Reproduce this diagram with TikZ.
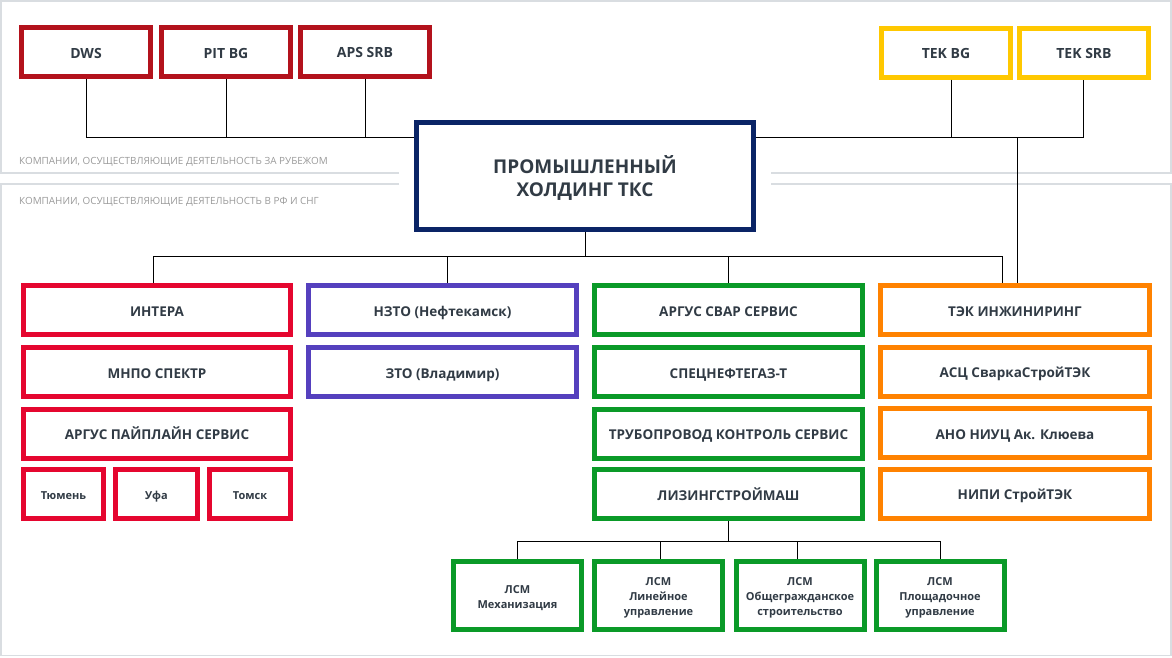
\documentclass[tikz,border=0pt]{standalone}
\usepackage{fontspec}
\setmainfont{Open Sans}
\definecolor{dred}{HTML}{B3121C}
\definecolor{yel}{HTML}{FFC800}
\definecolor{navy}{HTML}{0A2466}
\definecolor{red}{HTML}{E5062F}
\definecolor{purp}{HTML}{5540BE}
\definecolor{grn}{HTML}{0A9A28}
\definecolor{orng}{HTML}{FF8200}
\definecolor{txt}{HTML}{313B45}
\definecolor{pline}{HTML}{D9DDE1}
\definecolor{ltxt}{HTML}{9A9A9A}
\tikzset{
  basebox/.style={draw, line width=5pt, fill=white, inner sep=0pt, minimum height=49pt,
    text=txt, align=center},
  box/.style={basebox, text height=12.2pt, text depth=0pt,
    font=\bfseries\fontsize{13.5}{15}\selectfont},
  topbox/.style={basebox, minimum width=129pt, text height=12.6pt, text depth=0pt,
    font=\bfseries\fontsize{14}{16}\selectfont},
  colbox/.style={box, minimum width=268pt},
  smallbox/.style={basebox, text height=10.5pt, text depth=0pt,
    font=\bfseries\fontsize{11}{13}\selectfont},
  lsmbox/.style={basebox, draw=grn, minimum width=128pt, minimum height=68pt,
    font=\bfseries\fontsize{11}{15}\selectfont},
  hubbox/.style={basebox, minimum width=337pt, minimum height=107pt,
    font=\bfseries\fontsize{19}{23}\selectfont},
  conn/.style={line width=1pt, black},
  panel/.style={line width=1.5pt, pline},
  lbl/.style={anchor=west, inner sep=0pt, text=ltxt, text height=7.1pt, text depth=0pt,
    font=\fontsize{9.9}{11}\selectfont}
}
\begin{document}
\begin{tikzpicture}[x=1pt,y=-1pt]
\useasboundingbox (0,0) rectangle (1172,657);
% panels
\draw[panel] (399,173) -- (0.75,173) -- (0.75,0.75) -- (1171,0.75) -- (1171,173) -- (771,173);
\draw[panel] (399,184) -- (0.75,184) -- (0.75,655.5) -- (1171,655.5) -- (1171,184) -- (771,184);
\node[lbl] (lab1) at (19,160.5) {КОМПАНИИ, ОСУЩЕСТВЛЯЮЩИЕ ДЕЯТЕЛЬНОСТЬ ЗА РУБЕЖОМ};
\node[lbl] (lab2) at (19,200.5) {КОМПАНИИ, ОСУЩЕСТВЛЯЮЩИЕ ДЕЯТЕЛЬНОСТЬ В РФ И СНГ};
% top row
\node[topbox, draw=dred] (dws) at (86,52) {DWS};
\node[topbox, draw=dred] (pit) at (226,52) {PIT BG};
\node[topbox, draw=dred] (aps) at (365,51.5) {APS SRB};
\node[topbox, draw=yel] (tekbg) at (946,52.5) {TEK BG};
\node[topbox, draw=yel] (teksrb) at (1084,52.5) {TEK SRB};
% hub
\node[hubbox, draw=navy] (hub) at (585,176) {\rule{0pt}{21pt}ПРОМЫШЛЕННЫЙ\\ХОЛДИНГ ТКС};
% red column
\node[colbox, draw=red, minimum width=267pt] (r1) at (157,310) {ИНТЕРА};
\node[colbox, draw=red, minimum width=267pt] (r2) at (157,372) {МНПО СПЕКТР};
\node[colbox, draw=red, minimum width=267pt] (r3) at (157,433.5) {АРГУС ПАЙПЛАЙН СЕРВИС};
\node[smallbox, draw=red, minimum width=80pt] (s1) at (63.5,494) {Тюмень};
\node[smallbox, draw=red, minimum width=82pt] (s2) at (156.5,494) {Уфа};
\node[smallbox, draw=red, minimum width=81pt] (s3) at (250,494) {Томск};
% purple column
\node[colbox, draw=purp] (p1) at (442.5,310) {НЗТО (Нефтекамск)};
\node[colbox, draw=purp] (p2) at (442.5,372) {ЗТО (Владимир)};
% green column
\node[colbox, draw=grn] (g1) at (728.5,310) {АРГУС СВАР СЕРВИС};
\node[colbox, draw=grn] (g2) at (728.5,372) {СПЕЦНЕФТЕГАЗ-Т};
\node[colbox, draw=grn] (g3) at (728.5,433.5) {ТРУБОПРОВОД КОНТРОЛЬ СЕРВИС};
\node[colbox, draw=grn] (g4) at (728.5,494) {ЛИЗИНГСТРОЙМАШ};
% orange column
\node[colbox, draw=orng, minimum width=269pt] (o1) at (1015,310) {ТЭК ИНЖИНИРИНГ};
\node[colbox, draw=orng, minimum width=269pt] (o2) at (1015,371.5) {АСЦ СваркаСтройТЭК};
\node[colbox, draw=orng, minimum width=269pt] (o3) at (1015,433) {АНО НИУЦ Ак. Клюева};
\node[colbox, draw=orng, minimum width=269pt] (o4) at (1015,493.5) {НИПИ СтройТЭК};
% LSM row
\node[lsmbox] (l1) at (517.5,595.5) {\rule{0pt}{12.8pt}ЛСМ\\Механизация};
\node[lsmbox] (l2) at (658.5,595.5) {\rule{0pt}{12.8pt}ЛСМ\\Линейное\\управление};
\node[lsmbox] (l3) at (800,595.5) {\rule{0pt}{12.8pt}ЛСМ\\Общегражданское\\строительство};
\node[lsmbox] (l4) at (940,595.5) {\rule{0pt}{12.8pt}ЛСМ\\Площадочное\\управление};
% connectors top
\coordinate (hl) at (0,137);
\draw[conn] (dws.south) -- (dws.south |- hl) -- (hub.west |- hl);
\draw[conn] (pit.south) -- (pit.south |- hl);
\draw[conn] (aps.south) -- (aps.south |- hl);
\draw[conn] (hub.east |- hl) -- ([xshift=-1pt]teksrb.south |- hl) -- ([xshift=-1pt]teksrb.south);
\draw[conn] ([xshift=5pt]tekbg.south) -- ([xshift=5pt]tekbg.south |- hl);
\coordinate (tx) at (1017,137);
\draw[conn] (tx) -- (tx |- o1.north);
% connectors middle
\coordinate (hb) at (0,256);
\draw[conn] (hub.south) -- (hub.south |- hb);
\draw[conn] ([xshift=-4pt]r1.north) |- ([xshift=-13pt]o1.north |- hb) -- ([xshift=-13pt]o1.north);
\draw[conn] ([xshift=4.5pt]p1.north) -- ([xshift=4.5pt]p1.north |- hb);
\draw[conn] (g1.north) -- (g1.north |- hb);
% connectors bottom
\draw[conn] (g4.south) -- ++(0,20) coordinate (lb);
\draw[conn] (l1.north) |- (l4.north |- lb) -- (l4.north);
\draw[conn] ([xshift=1.5pt]l2.north) -- ([xshift=1.5pt]l2.north |- lb);
\draw[conn] ([xshift=-3pt]l3.north) -- ([xshift=-3pt]l3.north |- lb);
\end{tikzpicture}
\end{document}
